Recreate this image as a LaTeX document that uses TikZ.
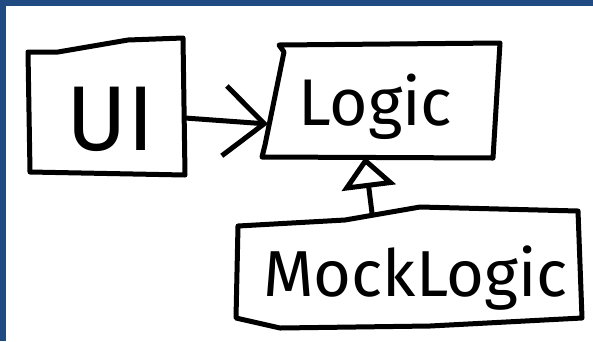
\documentclass[tikz,border=0pt]{standalone}
\usepackage{fontspec}
\setmainfont{Fira Sans}
\usetikzlibrary{arrows.meta}
\definecolor{framebg}{HTML}{1F4A82}

\begin{document}
\begin{tikzpicture}[x=1pt,y=-1pt,
    pen/.style={line width=5pt, line join=round, line cap=round},
    word/.style={inner sep=0pt, anchor=base west}]
  %%%%% START %%%%%
  \useasboundingbox (0,0) rectangle (593,341);

  % frame strips on top and left
  \fill[framebg] (0,0) rectangle (593,6);
  \fill[framebg] (0,0) rectangle (6,341);

  % UI box
  \draw[pen] (28,52) -- (58,52) -- (128,40) -- (183,38) -- (185,175) -- (30,172) -- cycle;
  \node[word, font=\fontsize{92}{92}\selectfont] (ui) at (66,150) {UI};

  % Logic box
  \draw[pen] (284,52) -- (279,45) -- (500,43) -- (493,158) -- (262,157) -- (265,145) -- cycle;
  \node[word, font=\fontsize{66}{66}\selectfont] (logic) at (298,125) {Logic};

  % MockLogic box
  \draw[pen] (238,226) -- (345,220) -- (420,207) -- (578,211) -- (582,318)
    -- (430,326) -- (280,328) -- (236,318) -- cycle;
  \node[word, font=\fontsize{65}{65}\selectfont] (mock) at (263,296) {MockLogic};

  % connector ends on the box edges
  \coordinate (ui-e) at (185,118);
  \coordinate (logic-w) at (268,124);
  \coordinate (logic-s) at (365,157);
  \coordinate (mock-n) at (372,213);

  % UI uses Logic
  \draw[pen, -{Straight Barb[length=40pt, width=70pt]}] (ui-e) -- (logic-w);

  % MockLogic inherits Logic
  \draw[pen, -{Triangle[open, fill=white, length=31pt, width=54pt]}] (mock-n) -- (logic-s);

  %%%%% END %%%%%
\end{tikzpicture}
\end{document}
